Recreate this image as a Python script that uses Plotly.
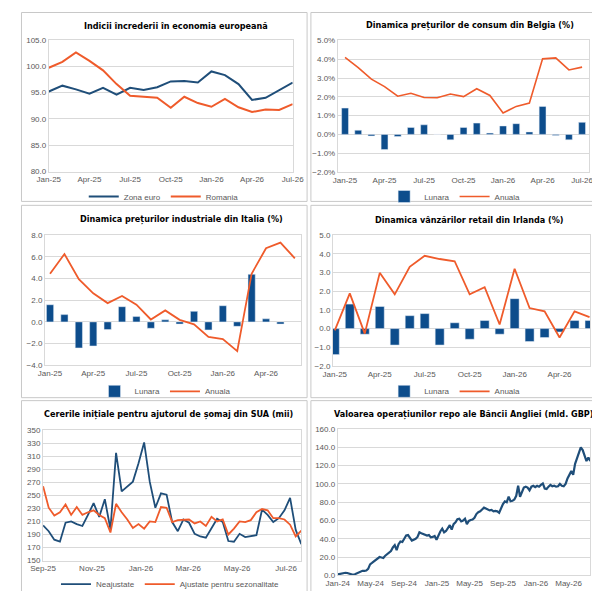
import pandas as pd
import plotly.graph_objects as go

W, H = 600, 591

# monthly categories
months_19 = ["Jan-25", "Feb-25", "Mar-25", "Apr-25", "May-25", "Jun-25", "Jul-25", "Aug-25",
             "Sep-25", "Oct-25", "Nov-25", "Dec-25", "Jan-26", "Feb-26", "Mar-26", "Apr-26",
             "May-26", "Jun-26", "Jul-26"]
months_18 = months_19[:18]
ticks_19 = ["Jan-25", "Apr-25", "Jul-25", "Oct-25", "Jan-26", "Apr-26", "Jul-26"]
ticks_18 = ["Jan-25", "Apr-25", "Jul-25", "Oct-25", "Jan-26", "Apr-26"]

# Indicii increderii
zona_euro = [95.2, 96.3, 95.6, 94.8, 95.9, 94.6, 95.9, 95.5, 96.0, 97.1, 97.2, 96.9,
             99.0, 98.3, 96.6, 93.6, 94.0, 95.4, 96.9]
romania = [99.7, 100.8, 102.6, 101.0, 99.2, 96.6, 94.4, 94.2, 94.0, 92.1, 94.2, 93.0,
           92.3, 93.8, 92.2, 91.3, 91.8, 91.7, 92.8]

# Belgia CPI (%)
be_lunara = [1.40, 0.22, -0.08, -0.81, -0.11, 0.37, 0.51, 0.0, -0.29, 0.37, 0.60, 0.07,
             0.45, 0.57, 0.13, 1.49, -0.06, -0.29, 0.64]
be_anuala = [4.10, 3.55, 2.94, 2.54, 2.03, 2.19, 1.96, 1.95, 2.15, 2.01, 2.43, 2.07,
             1.14, 1.49, 1.67, 4.02, 4.07, 3.43, 3.58]

# Italia PPI (%)
it_lunara = [1.58, 0.67, -2.40, -2.22, -0.71, 1.40, 0.49, -0.59, 0.19, -0.20, 0.97, -0.74,
             1.49, -0.41, 4.38, 0.28, -0.20, None]
it_anuala = [4.44, 6.25, 3.93, 2.63, 1.73, 2.39, 1.58, 0.22, 1.06, 0.19, -0.23, -1.38,
             -1.59, -2.70, 4.44, 6.79, 7.30, 5.86]

# Irlanda retail (%)
ie_lunara = [-1.39, 1.31, -0.30, 1.18, -0.88, 0.69, 0.80, -0.88, 0.31, -0.57, 0.43, -0.30,
             1.60, -0.69, -0.48, -0.18, 0.43, 0.43]
ie_anuala = [-0.10, 1.88, -0.27, 2.98, 1.83, 3.30, 3.89, 3.72, 3.60, 1.83, 2.21, 0.22,
             3.20, 1.10, 0.92, -0.48, 0.92, 0.61]

# SUA initial claims (mii), weekly
claims_dates = pd.date_range("2025-09-06", periods=47, freq="7D")
neajustate = [204, 195, 182, 179, 208, 210, 206, 203, 220, 238, 217, 244, 198, 315, 256, 264,
              271, 299, 331, 271, 231, 253, 251, 209, 195, 213, 208, 191, 187, 185, 200, 214,
              209, 180, 179, 191, 186, 188, 189, 228, 220, 209, 215, 227, 246, 197, 175]
ajustate = [264, 231, 219, 224, 236, 220, 232, 220, 224, 227, 220, 215, 193, 237, 224, 213,
            200, 206, 199, 210, 209, 232, 231, 209, 212, 213, 213, 207, 210, 203, 217, 210,
            213, 190, 199, 210, 209, 212, 224, 229, 227, 215, 215, 213, 205, 187, 196]

# BoE repo (mld. GBP), weekly
repo_dates = pd.date_range("2024-01-03", periods=134, freq="7D")
repo = [1.0, 1.5, 2.0, 2.5, 2.8, 2.5, 2.0, 1.0, 0.5, 1.2, 2.2, 3.5, 4.8, 5.0, 4.8, 5.2,
        7.0, 12.0, 13.5, 15.0, 17.0, 18.5, 20.0, 19.5, 19.0, 21.5, 23.0, 24.0, 26.5, 30.5,
        33.0, 27.5, 34.0, 37.0, 36.5, 40.0, 43.5, 44.0, 41.0, 38.0, 39.0, 40.0, 42.0, 47.0,
        46.0, 45.0, 44.0, 43.5, 44.0, 41.5, 42.0, 43.0, 39.0, 44.0, 48.0, 51.0, 47.0, 48.5,
        52.0, 55.0, 50.0, 56.0, 58.0, 61.5, 62.0, 59.0, 60.0, 62.0, 56.0, 59.5, 60.5, 61.0,
        63.0, 67.0, 69.0, 70.0, 72.0, 74.0, 73.0, 71.5, 71.0, 71.5, 70.0, 70.5, 70.0, 68.5,
        74.0, 78.0, 81.0, 80.0, 86.0, 81.0, 81.5, 83.0, 87.0, 98.0, 86.0, 91.0, 96.0, 97.0,
        96.0, 93.0, 97.0, 98.0, 96.5, 98.0, 97.0, 99.0, 100.5, 95.0, 94.5, 97.0, 99.0, 97.5,
        98.0, 97.0, 97.5, 100.0, 98.0, 97.5, 100.0, 106.0, 110.0, 114.0, 110.0, 122.0, 128.0,
        134.0, 140.0, 137.0, 132.0, 125.0, 129.0, 125.0]

BLUE = "#1F4E79"
BAR = "#0D4D8C"
ORANGE = "#EF5B2B"
GRID = "#D9D9D9"
TXT = "#595959"
FONT = "Liberation Sans, Arial, sans-serif"
TITLE_FONT = "DejaVu Sans Condensed, Liberation Sans Narrow, Arial Narrow, sans-serif"


def px_x(v):
    return v / W


def px_y(v):
    return 1 - v / H


fig = go.Figure()

# panel 1
fig.add_trace(go.Scatter(x=months_19, y=zona_euro, name="Zona euro", mode="lines",
                         line=dict(color=BLUE, width=2), xaxis="x", yaxis="y", legend="legend"))
fig.add_trace(go.Scatter(x=months_19, y=romania, name="Romania", mode="lines",
                         line=dict(color=ORANGE, width=2), xaxis="x", yaxis="y", legend="legend"))

# panel 2
fig.add_trace(go.Bar(x=months_19, y=be_lunara, name="Lunara", marker_color=BAR, width=0.52,
                     xaxis="x2", yaxis="y2", legend="legend2"))
fig.add_trace(go.Scatter(x=months_19, y=be_anuala, name="Anuala", mode="lines",
                         line=dict(color=ORANGE, width=1.6), xaxis="x2", yaxis="y2", legend="legend2"))

# panel 3
fig.add_trace(go.Bar(x=months_18, y=it_lunara, name="Lunara", marker_color=BAR, width=0.5,
                     xaxis="x3", yaxis="y3", legend="legend3"))
fig.add_trace(go.Scatter(x=months_18, y=it_anuala, name="Anuala", mode="lines",
                         line=dict(color=ORANGE, width=1.8), xaxis="x3", yaxis="y3", legend="legend3"))

# panel 4
fig.add_trace(go.Bar(x=months_18, y=ie_lunara, name="Lunara", marker_color=BAR, width=0.6,
                     xaxis="x4", yaxis="y4", legend="legend4"))
fig.add_trace(go.Scatter(x=months_18, y=ie_anuala, name="Anuala", mode="lines",
                         line=dict(color=ORANGE, width=1.8), xaxis="x4", yaxis="y4", legend="legend4"))

# panel 5
fig.add_trace(go.Scatter(x=claims_dates, y=neajustate, name="Neajustate", mode="lines",
                         line=dict(color=BLUE, width=1.8), xaxis="x5", yaxis="y5", legend="legend5"))
fig.add_trace(go.Scatter(x=claims_dates, y=ajustate, name="Ajustate pentru sezonalitate", mode="lines",
                         line=dict(color=ORANGE, width=1.8), xaxis="x5", yaxis="y5", legend="legend5"))

# panel 6
fig.add_trace(go.Scatter(x=repo_dates, y=repo, name="Repo", mode="lines", showlegend=False,
                         line=dict(color=BLUE, width=2.2), xaxis="x6", yaxis="y6"))

axis_common = dict(showgrid=False, showline=True, linecolor=GRID, linewidth=1, mirror=True,
                   ticks="", tickfont=dict(family=FONT, size=8, color=TXT), zeroline=False,
                   fixedrange=True)
yaxis_common = dict(showgrid=True, gridcolor=GRID, gridwidth=0.8, showline=True, linecolor=GRID,
                    linewidth=1, mirror=True, ticks="", zeroline=False,
                    tickfont=dict(family=FONT, size=8, color=TXT), fixedrange=True)

# plot areas in pixels: (x0, x1, ytop, ybottom)
areas = {
    1: (29, 283, 28.3, 162.7),
    2: (330, 592, 29, 163),
    3: (25, 292, 227.3, 360),
    4: (325, 593, 227.3, 360.7),
    5: (23, 292, 426, 559),
    6: (330, 593, 425, 574),
}

layout = dict(width=W, height=H, margin=dict(l=0, r=0, t=0, b=0),
              paper_bgcolor="white", plot_bgcolor="white", showlegend=True,
              barmode="overlay")

x_settings = {
    1: dict(type="category", range=[0, 18], tickvals=ticks_19),
    2: dict(type="category", range=[-0.55, 18.55], tickvals=ticks_19),
    3: dict(type="category", range=[-0.35, 17.45], tickvals=ticks_18),
    4: dict(type="category", range=[-0.12, 17.05], tickvals=ticks_18),
    5: dict(type="date", range=["2025-09-06", "2026-07-25"], tick0="2025-09-06",
            dtick="M2", tickformat="%b-%y"),
    6: dict(type="date", range=["2024-01-03", "2026-07-22"], tick0="2024-01-03",
            dtick="M4", tickformat="%b-%y"),
}
y_settings = {
    1: dict(range=[80, 105], dtick=5, tickformat=".1f"),
    2: dict(range=[-2, 5], dtick=1, tickformat=".1f", ticksuffix="%"),
    3: dict(range=[-4, 8], dtick=2, tickformat=".1f"),
    4: dict(range=[-2, 5], dtick=1, tickformat=".1f"),
    5: dict(range=[150, 350], dtick=20, tick0=150, tickformat="d"),
    6: dict(range=[0, 160], dtick=20, tickformat=".1f"),
}

for i, (x0, x1, yt, yb) in areas.items():
    sx = "" if i == 1 else str(i)
    xa = dict(axis_common, domain=[px_x(x0), px_x(x1)], anchor="y" + sx, **x_settings[i])
    ya = dict(yaxis_common, domain=[px_y(yb), px_y(yt)], anchor="x" + sx, **y_settings[i])
    layout["xaxis" + sx] = xa
    layout["yaxis" + sx] = ya

legend_pos = {1: (148.7, 188), 2: (451.7, 188), 3: (150, 386.5), 4: (451.7, 386.5), 5: (155.7, 583)}
for i, (lx, ly) in legend_pos.items():
    key = "legend" if i == 1 else "legend" + str(i)
    layout[key] = dict(x=px_x(lx), y=px_y(ly), xanchor="center", yanchor="middle",
                       orientation="h", itemwidth=30, bgcolor="rgba(0,0,0,0)",
                       font=dict(family=FONT, size=8, color=TXT), tracegroupgap=0)

fig.update_layout(**layout)

# panel frames
frames = [(0.5, 298, 0.5, 193), (302, 599.5, 0.5, 193), (0.5, 298, 197, 393),
          (302, 599.5, 197, 393), (0.5, 298, 396, 590.5), (302, 599.5, 396, 590.5)]
for fx0, fx1, fy0, fy1 in frames:
    fig.add_shape(type="rect", xref="paper", yref="paper", x0=px_x(fx0), x1=px_x(fx1),
                  y0=px_y(fy1), y1=px_y(fy0), line=dict(color="#C8C8C8", width=1), layer="below")

titles = [
    ("Indicii încrederii în economia europeană", 161, 14),
    ("Dinamica prețurilor de consum din Belgia (%)", 467.5, 14),
    ("Dinamica prețurilor industriale din Italia (%)", 167.5, 211.5),
    ("Dinamica vânzărilor retail din Irlanda (%)", 467.5, 211.5),
    ("Cererile inițiale pentru ajutorul de șomaj din SUA (mii)", 154, 410),
    ("Valoarea operațiunilor repo ale Băncii Angliei (mld. GBP)", 460.8, 410),
]
for text, tx, ty in titles:
    fig.add_annotation(text="<b>" + text + "</b>", xref="paper", yref="paper",
                       x=px_x(tx), y=px_y(ty), xanchor="center", yanchor="middle",
                       showarrow=False, font=dict(family=TITLE_FONT, size=9, color="#000000"))

fig.write_html("out.html")
